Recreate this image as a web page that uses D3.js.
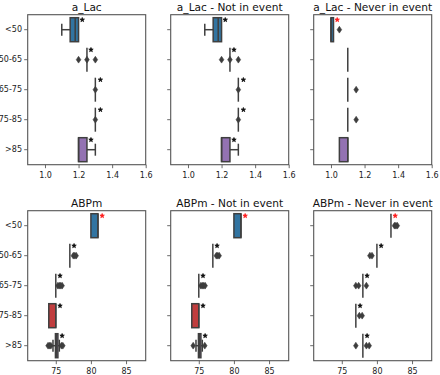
<!DOCTYPE html>
<html><head><meta charset="utf-8">
<script src="https://cdn.jsdelivr.net/npm/d3@7"></script>
<style>body{margin:0;background:#fff}svg{display:block}</style>
</head><body>
<script>
const categories = ["<50","50-65","65-75","75-85",">85"];
const titles = ["a_Lac","a_Lac - Not in event","a_Lac - Never in event","ABPm","ABPm - Not in event","ABPm - Never in event"];
const xTicksLac = [1.0,1.2,1.4,1.6];
const xTicksABP = [75,80,85];
const colors = ["#3274a1","#e1812c","#3a923a","#c03d3e","#9372b2"];
// each row: [whiskerLow, q1, median, q3, whiskerHigh, outliers]
const lacAll = [[1.1,1.15,1.18,1.2,1.2,[]],[1.25,1.25,1.25,1.25,1.25,[1.2,1.25,1.3]],[1.3,1.3,1.3,1.3,1.3,[1.3]],[1.3,1.3,1.3,1.3,1.3,[1.3]],[1.2,1.2,1.2,1.25,1.3,[]]];
const lacNot = [[1.1,1.15,1.18,1.2,1.2,[]],[1.25,1.25,1.25,1.25,1.25,[1.2,1.25,1.3]],[1.3,1.3,1.3,1.3,1.3,[1.3]],[1.3,1.3,1.3,1.3,1.3,[1.3]],[1.2,1.2,1.2,1.25,1.3,[]]];
const lacNever = [[1.0,1.0,1.0,1.015,1.015,[1.05]],[1.1,1.1,1.1,1.1,1.1,[]],[1.1,1.1,1.1,1.1,1.1,[1.15]],[1.1,1.1,1.1,1.1,1.1,[1.15]],[1.05,1.05,1.1,1.1,1.1,[]]];
const abpAll = [[80,80,81,81,81,[]],[77,77,77,77,77,[77.5,77.7,77.9]],[75,75,75,75,75,[75.3,75.5,75.7,75.9]],[74,74,75,75,75,[]],[74.6,74.95,75.1,75.3,75.5,[73.9,74.1,74.3,75.8,76.0]]];
const abpNot = [[80,80,81,81,81,[]],[77,77,77,77,77,[77.5,77.7,77.9]],[75,75,75,75,75,[75.3,75.5,75.7,75.9]],[74,74,75,75,75,[]],[74.6,74.95,75.1,75.3,75.5,[74.2,75.85]]];
const abpNever = [[82,82,82,82,82,[82.5,82.7,82.9]],[80,80,80,80,80,[79.0,79.3]],[78,78,78,78,78,[77.0,77.4,78.5]],[77,77,77,77,77,[77.5,77.9]],[78,78,78,78,78,[77.0,78.5,78.9]]];
// significance stars: x position (null = none) and colour flag (1 = red)
const starsLacAll = [1.222,1.274,1.33,1.33,1.274];
const starsLacNot = [1.222,1.274,1.33,1.33,1.274];
const starsLacNever = [1.037,null,null,null,null];
const starsAbpAll = [81.6,77.6,75.6,75.6,75.9];
const starsAbpNot = [81.6,77.6,75.6,75.6,75.9];
const starsAbpNever = [82.6,80.6,78.6,77.6,78.6];
const starsRedLacAll = [0,0,0,0,0];
const starsRedLacNever = [1,0,0,0,0];
const starsRedAbp = [1,0,0,0,0];

const W=440,H=375;
const svg=d3.select("body").append("svg").attr("width",W).attr("height",H).style("font-family","DejaVu Sans, sans-serif");
const lefts=[27.7,170.7,313.7], tops=[14.7,210.7], pw=118, ph=150;
const panels=[
 {data:lacAll,stars:starsLacAll,red:starsRedLacAll,dom:[0.897,1.6],ticks:xTicksLac,fmt:d3.format(".1f")},
 {data:lacNot,stars:starsLacNot,red:starsRedLacAll,dom:[0.897,1.6],ticks:xTicksLac,fmt:d3.format(".1f")},
 {data:lacNever,stars:starsLacNever,red:starsRedLacNever,dom:[0.897,1.6],ticks:xTicksLac,fmt:d3.format(".1f")},
 {data:abpAll,stars:starsAbpAll,red:starsRedAbp,dom:[71.0,87.8],ticks:xTicksABP,fmt:d3.format("d")},
 {data:abpNot,stars:starsAbpNot,red:starsRedAbp,dom:[71.0,87.8],ticks:xTicksABP,fmt:d3.format("d")},
 {data:abpNever,stars:starsAbpNever,red:starsRedAbp,dom:[71.0,87.8],ticks:xTicksABP,fmt:d3.format("d")}
];
const edge="#3f3f3f";
const diamond="M0,-3.4L2.3,0L0,3.4L-2.3,0Z";
panels.forEach((p,i)=>{
  const col=i%3,row=Math.floor(i/3);
  const g=svg.append("g").attr("transform",`translate(${lefts[col]},${tops[row]})`);
  const x=d3.scaleLinear().domain(p.dom).range([0,pw]);
  const y=d3.scaleBand().domain(categories).range([0,ph]);
  const bw=y.bandwidth()*0.8;
  const xa=g.append("g").attr("transform",`translate(0,${ph})`).call(d3.axisBottom(x).tickValues(p.ticks).tickFormat(p.fmt).tickSize(3.5).tickPadding(4));
  const ya=g.append("g").call(d3.axisLeft(y).tickSize(3.5).tickPadding(2.2).tickFormat(col===0?(d=>d):(()=>"")));
  [xa,ya].forEach(a=>{a.select(".domain").remove();a.selectAll("line").attr("stroke","#444").attr("stroke-width",0.8);a.selectAll("text").attr("fill","#222").style("font-size","8px").style("font-family","DejaVu Sans, sans-serif");});
  g.append("rect").attr("width",pw).attr("height",ph).attr("fill","none").attr("stroke","#555").attr("stroke-width",1.1);
  g.append("text").attr("x",pw/2).attr("y",-4).attr("text-anchor","middle").style("font-size","10.6px").attr("fill","#111").text(titles[i]);
  p.data.forEach((d,k)=>{
    const [wl,q1,md,q3,wh,outs]=d;
    const cy=y(categories[k])+y.bandwidth()/2;
    const b=g.append("g");
    if(wl<q1){b.append("line").attr("x1",x(wl)).attr("x2",x(q1)).attr("y1",cy).attr("y2",cy).attr("stroke",edge).attr("stroke-width",1.5);
      b.append("line").attr("x1",x(wl)).attr("x2",x(wl)).attr("y1",cy-bw/4).attr("y2",cy+bw/4).attr("stroke",edge).attr("stroke-width",1.5);}
    if(wh>q3){b.append("line").attr("x1",x(q3)).attr("x2",x(wh)).attr("y1",cy).attr("y2",cy).attr("stroke",edge).attr("stroke-width",1.5);
      b.append("line").attr("x1",x(wh)).attr("x2",x(wh)).attr("y1",cy-bw/4).attr("y2",cy+bw/4).attr("stroke",edge).attr("stroke-width",1.5);}
    b.append("rect").attr("x",x(q1)).attr("y",cy-bw/2).attr("width",Math.max(0,x(q3)-x(q1))).attr("height",bw)
      .attr("fill",colors[k]).attr("stroke",edge).attr("stroke-width",1.5);
    b.append("line").attr("x1",x(md)).attr("x2",x(md)).attr("y1",cy-bw/2).attr("y2",cy+bw/2).attr("stroke",edge).attr("stroke-width",1.5);
    outs.forEach(o=>{b.append("path").attr("d",diamond).attr("transform",`translate(${x(o)},${cy})`).attr("fill","#3d3d3d").attr("stroke","#3d3d3d").attr("stroke-width",0.6);});
    const s=p.stars[k];
    if(s!==null){
      g.append("path").attr("d",d3.symbol(d3.symbolStar,6)()).attr("transform",`translate(${x(s)},${cy-y.bandwidth()*0.33})`)
        .attr("fill",p.red[k]?"#ff2020":"#111").attr("stroke",p.red[k]?"#ff2020":"#111").attr("stroke-width",0.8);
    }
  });
});
</script>
</body></html>
